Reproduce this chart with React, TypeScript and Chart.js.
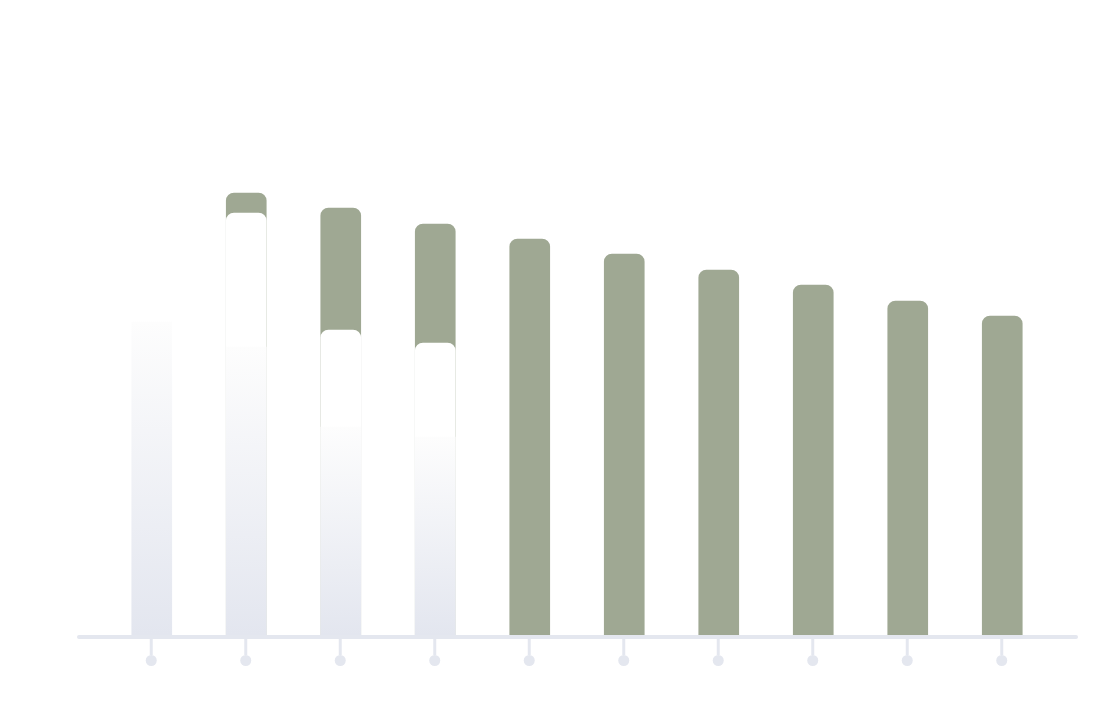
import React, { useEffect, useRef } from "react";
import { Chart, registerables } from "chart.js";

Chart.register(...registerables);

const categories = ["1", "2", "3", "4", "5", "6", "7", "8", "9", "10"];
const greenValues = [null, 442, 427, 411, 396, 381, 365, 350, 334, 319];
const whiteValues = [null, 422, 305, 292, null, null, null, null, null, null];
const gradientValues = [313, 288, 208, 198, null, null, null, null, null, null];

const GREEN = "#9FA893";
const LAVENDER = "#E3E6EF";
const AXIS = "#E4E7EF";

const axisPlugin = {
  id: "customAxis",
  afterDraw(chart: any) {
    const { ctx, chartArea, scales } = chart;
    const x = scales.x;
    const y0 = chartArea.bottom + 2;
    ctx.save();
    ctx.strokeStyle = AXIS;
    ctx.fillStyle = AXIS;
    ctx.lineCap = "round";
    ctx.lineWidth = 4;
    ctx.beginPath();
    ctx.moveTo(chartArea.left - 25.5, y0);
    ctx.lineTo(chartArea.right + 26.5, y0);
    ctx.stroke();
    ctx.lineCap = "butt";
    ctx.lineWidth = 3;
    categories.forEach((_, i) => {
      const px = x.getPixelForValue(i) - 0.5;
      ctx.beginPath();
      ctx.moveTo(px, y0);
      ctx.lineTo(px, y0 + 18);
      ctx.stroke();
      ctx.beginPath();
      ctx.arc(px, y0 + 23.5, 5.5, 0, Math.PI * 2);
      ctx.fill();
    });
    ctx.restore();
  },
};

export default function App() {
  const ref = useRef<HTMLCanvasElement>(null);
  useEffect(() => {
    if (!ref.current) return;
    const gradientFill = (c: any) => {
      const chart = c.chart;
      const { chartArea, scales } = chart;
      if (!chartArea || c.raw == null) return "rgba(0,0,0,0)";
      const top = scales.y.getPixelForValue(c.raw);
      const bottom = scales.y.getPixelForValue(0);
      const g = chart.ctx.createLinearGradient(0, top, 0, bottom);
      g.addColorStop(0, "#FDFDFD");
      g.addColorStop(1, LAVENDER);
      return g;
    };
    const chart = new Chart(ref.current, {
      type: "bar",
      data: {
        labels: categories,
        datasets: [
          {
            data: gradientValues as any,
            backgroundColor: gradientFill as any,
            borderRadius: 0,
            borderSkipped: "start",
            barThickness: 40,
            grouped: false,
            order: 0,
          },
          {
            data: whiteValues as any,
            backgroundColor: "#FFFFFF",
            borderRadius: 8,
            borderSkipped: "start",
            barThickness: 40,
            grouped: false,
            order: 1,
          },
          {
            data: greenValues as any,
            backgroundColor: GREEN,
            borderRadius: 8,
            borderSkipped: "start",
            barThickness: 40,
            grouped: false,
            order: 2,
          },
        ],
      },
      options: {
        animation: false,
        responsive: false,
        layout: { padding: { left: 104.5, right: 51.5, top: 135, bottom: 87 } },
        plugins: { legend: { display: false }, tooltip: { enabled: false } },
        scales: {
          x: { display: false },
          y: { display: false, min: 0, max: 500 },
        },
      },
      plugins: [axisPlugin],
    });
    return () => chart.destroy();
  }, []);
  return (
    <div style={{ position: "absolute", left: 0, top: 0, width: 1101, height: 722, background: "#fff" }}>
      <canvas ref={ref} width={1101} height={722} style={{ display: "block" }} />
    </div>
  );
}
